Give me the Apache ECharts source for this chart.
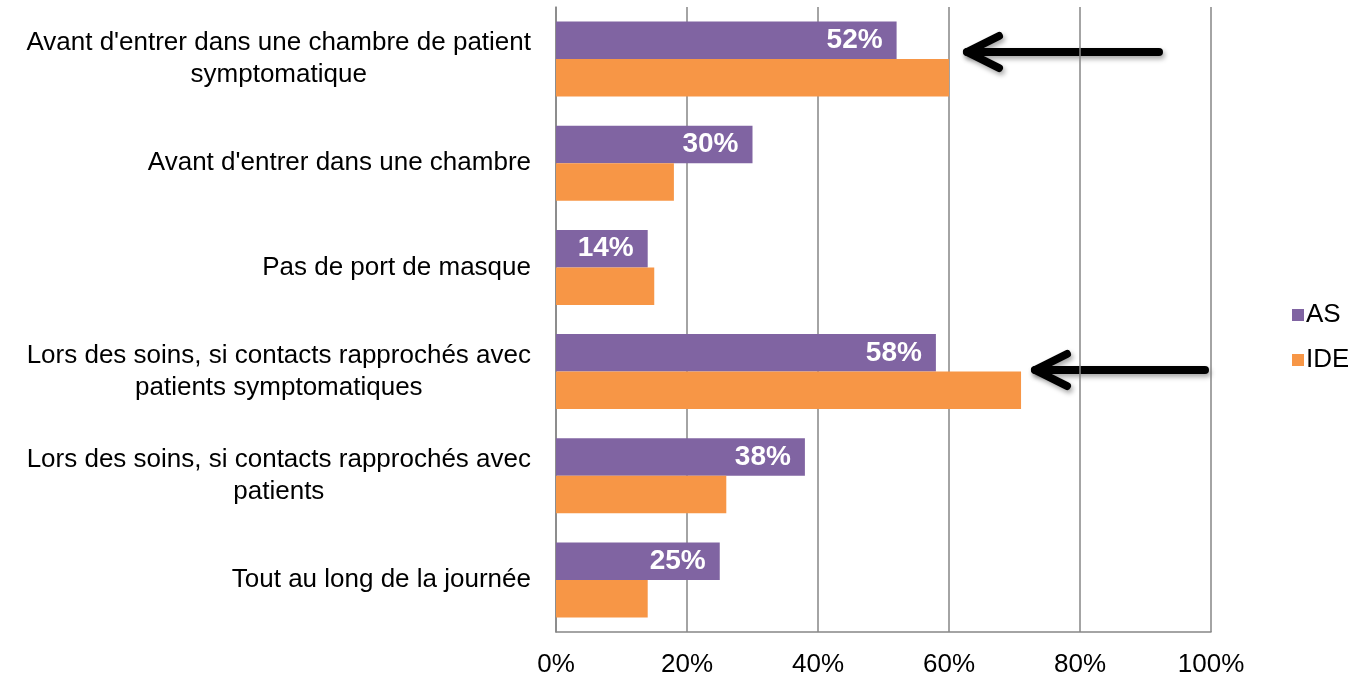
<!DOCTYPE html>
<html>
<head>
<meta charset="utf-8">
<script src="https://cdn.jsdelivr.net/npm/echarts@6/dist/echarts.min.js"></script>
<style>
  html, body { margin: 0; padding: 0; background: #fff; }
  #main { width: 1348px; height: 677px; }
</style>
</head>
<body>
<div id="main"></div>
<script>
var categories = [
  "Avant d'entrer dans une chambre de patient\nsymptomatique",
  "Avant d'entrer dans une chambre",
  "Pas de port de masque",
  "Lors des soins, si contacts rapprochés avec\npatients symptomatiques",
  "Lors des soins, si contacts rapprochés avec\npatients",
  "Tout au long de la journée"
];
var asValues = [52, 30, 14, 58, 38, 25];
var ideValues = [60, 18, 15, 71, 26, 14];
var xTicks = [0, 20, 40, 60, 80, 100];

var myChart = echarts.init(document.getElementById("main"));

var font = "'Liberation Sans', Arial, sans-serif";

var arrowStyle = {
  stroke: "#000", lineWidth: 8, fill: null, lineCap: "round", lineJoin: "round",
  shadowBlur: 5, shadowColor: "rgba(0,0,0,0.35)", shadowOffsetX: 2, shadowOffsetY: 3
};

// flèche noire pointant vers la gauche
function arrow(tipX, tailX, y) {
  return [
    { type: "polyline", shape: { points: [[tailX, y], [tipX, y]] }, style: arrowStyle },
    { type: "polyline", shape: { points: [[tipX + 32, y - 16], [tipX, y], [tipX + 32, y + 16]] }, style: arrowStyle }
  ];
}

var option = {
  backgroundColor: "#fff",
  animation: false,
  textStyle: { fontFamily: font },
  grid: { left: 556, right: 137, top: 7, bottom: 45, containLabel: false, outerBoundsMode: "none" },
  legend: {
    orient: "vertical",
    left: 1287,
    top: 297,
    itemWidth: 12,
    itemHeight: 12,
    itemGap: 19,
    icon: "rect",
    textStyle: { fontSize: 26, color: "#000", fontFamily: font, padding: [0, 0, 0, -3] },
    data: ["AS", "IDE"]
  },
  xAxis: {
    type: "value",
    min: 0,
    max: 100,
    interval: 20,
    axisLine: { show: true, lineStyle: { color: "#868686", width: 1.5 } },
    axisTick: { show: false },
    splitLine: { show: true, lineStyle: { color: "#868686", width: 1.5 } },
    axisLabel: {
      margin: 20,
      fontSize: 26,
      color: "#000",
      fontFamily: font,
      formatter: function (v) { return xTicks.indexOf(v) >= 0 ? v + "%" : ""; }
    }
  },
  yAxis: {
    type: "category",
    inverse: true,
    data: categories,
    axisLine: { show: true, lineStyle: { color: "#868686", width: 1.5 } },
    axisTick: { show: false },
    axisLabel: {
      margin: 25,
      fontSize: 26,
      color: "#000",
      fontFamily: font,
      lineHeight: 32,
      formatter: function (v) {
        return v.split("\n").map(function (l) { return "{c|" + l + "}"; }).join("\n");
      },
      rich: { c: { align: "center", fontSize: 26, lineHeight: 32, fontFamily: font, color: "#000" } }
    }
  },
  series: [
    {
      name: "AS",
      type: "bar",
      data: asValues,
      barGap: "0%",
      barCategoryGap: "28%",
      itemStyle: { color: "#8064A2" },
      label: {
        show: true,
        position: "insideRight",
        distance: 14,
        color: "#fff",
        fontSize: 28,
        fontWeight: "bold",
        fontFamily: font,
        formatter: "{c}%"
      }
    },
    {
      name: "IDE",
      type: "bar",
      data: ideValues,
      barGap: "0%",
      barCategoryGap: "28%",
      itemStyle: { color: "#F79646" }
    }
  ],
  graphic: arrow(967, 1159, 52).concat(arrow(1035, 1205, 370))
};

myChart.setOption(option);
</script>
</body>
</html>
